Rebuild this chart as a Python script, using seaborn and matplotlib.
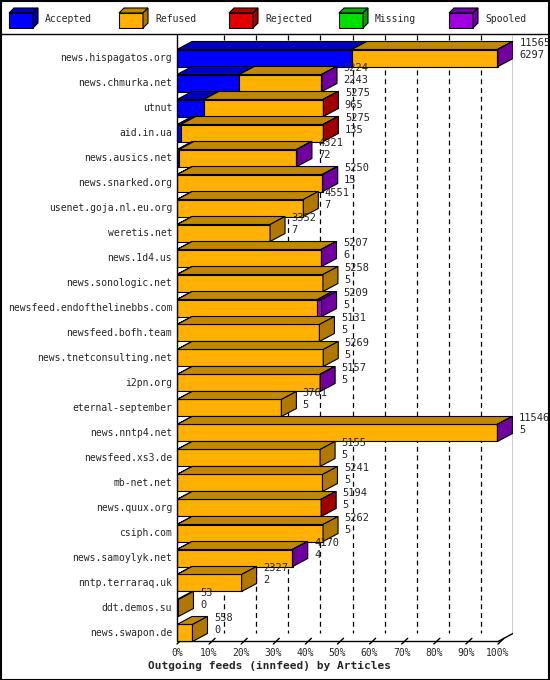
import numpy as np
import pandas as pd
import seaborn as sns
import matplotlib.pyplot as plt
from matplotlib.patches import Polygon, Rectangle

hosts = ['news.hispagatos.org', 'news.chmurka.net', 'utnut', 'aid.in.ua', 'news.ausics.net',
         'news.snarked.org', 'usenet.goja.nl.eu.org', 'weretis.net', 'news.1d4.us', 'news.sonologic.net',
         'newsfeed.endofthelinebbs.com', 'newsfeed.bofh.team', 'news.tnetconsulting.net', 'i2pn.org',
         'eternal-september', 'news.nntp4.net', 'newsfeed.xs3.de', 'mb-net.net', 'news.quux.org',
         'csiph.com', 'news.samoylyk.net', 'nntp.terraraq.uk', 'ddt.demos.su', 'news.swapon.de']
totals = [11565, 5224, 5275, 5275, 4321, 5250, 4551, 3352, 5207, 5258, 5209, 5131, 5269, 5157,
          3761, 11546, 5155, 5241, 5194, 5262, 4170, 2327, 53, 558]
accepted = [6297, 2243, 965, 135, 72, 15, 7, 7, 6, 5, 5, 5, 5, 5, 5, 5, 5, 5, 5, 5, 4, 2, 0, 0]
rejected = [0, 0, 20, 20, 0, 0, 0, 0, 0, 0, 0, 0, 0, 0, 0, 0, 0, 0, 20, 0, 0, 0, 0, 0]
missing = [0] * 24
spooled = [20, 20, 0, 0, 20, 20, 0, 0, 20, 0, 150, 0, 0, 20, 0, 20, 0, 0, 0, 0, 20, 0, 0, 0]

cats = ['Accepted', 'Refused', 'Rejected', 'Missing', 'Spooled']
front = {'Accepted': '#0000ff', 'Refused': '#ffb000', 'Rejected': '#e00000',
         'Missing': '#00e000', 'Spooled': '#a000e0'}
top = {'Accepted': '#0000c0', 'Refused': '#c08800', 'Rejected': '#b00000',
       'Missing': '#00b000', 'Spooled': '#7000b0'}
side = {'Accepted': '#0000a0', 'Refused': '#b07800', 'Rejected': '#a00000',
        'Missing': '#00a000', 'Spooled': '#7000a0'}

df = pd.DataFrame({'host': hosts, 'total': totals, 'Accepted': accepted,
                   'Rejected': rejected, 'Missing': missing, 'Spooled': spooled})
df['Refused'] = df['total'] - df['Accepted'] - df['Rejected'] - df['Missing'] - df['Spooled']
scale = 100.0 / max(totals)

sns.set_style('white')
plt.rcParams['font.family'] = ['DejaVu Sans Mono']
fig = plt.figure(figsize=(5.5, 6.8), dpi=100)

# axes in pixel placement: x 177..513, y 35..645
W, H = 550, 680
ax = fig.add_axes([177 / W, 1 - 645 / H, (513 - 177) / W, (645 - 35) / H])
dx = 15 / 321 * 100
rowpx = 25.0
dy = 8 / rowpx
bh = 17 / rowpx
ax.set_xlim(0, 100 + dx)
ax.set_ylim((645 - 58) / rowpx, -(58 - 35) / rowpx)
ax.axis('off')

n = len(hosts)
floor_front = n - 1 + bh / 2
floor_back = floor_front - dy
ytop = ax.get_ylim()[1]
# back grid
for p in range(10, 100, 10):
    ax.plot([p + dx, p + dx], [ytop, floor_back], color='black', lw=0.9, ls=(0, (4, 3)), zorder=1)
ax.plot([100 + dx, 100 + dx], [ytop, floor_back], color='black', lw=1, zorder=1)
ax.plot([0, 0], [ytop, floor_front], color='black', lw=1, zorder=5, clip_on=False)
ax.plot([0, 100, 100 + dx], [floor_front, floor_front, floor_back], color='black', lw=1, zorder=1)
for p in range(0, 101, 10):
    ax.plot([p, p + dx * 0.4], [floor_front + 0.1, floor_front - dy * 0.4], color='black', lw=1, zorder=1,
            clip_on=False)

for i, row in df.iterrows():
    y0 = i - bh / 2
    y1 = i + bh / 2
    left = 0.0
    last = None
    for c in cats:
        w = row[c] * scale
        if row[c] <= 0:
            continue
        ax.add_patch(Rectangle((left, y0), w, bh, fc=front[c], ec='black', lw=0.8, zorder=3))
        ax.add_patch(Polygon([(left, y0), (left + dx, y0 - dy), (left + w + dx, y0 - dy), (left + w, y0)],
                             fc=top[c], ec='black', lw=0.8, zorder=3))
        left += w
        last = c
    if last is None:
        last = 'Refused'
    ax.add_patch(Polygon([(left, y0), (left + dx, y0 - dy), (left + dx, y1 - dy), (left, y1)],
                         fc=side[last], ec='black', lw=0.8, zorder=3))
    ax.text(left + dx + 2, y0 - dy + 0.05, str(row['total']), fontsize=7.5, va='center', ha='left', zorder=4)
    ax.text(left + dx + 2, y0 - dy + 0.53, str(row['Accepted']), fontsize=7.5, va='center', ha='left', zorder=4)
    ax.text(-1.5, i, row['host'], fontsize=7, va='center', ha='right', clip_on=False)

for p in range(0, 101, 10):
    ax.text(p, floor_front + 0.45, f'{p}%', fontsize=7, ha='center', va='center', clip_on=False)
fig.text(148 / W, 1 - 666 / H, 'Outgoing feeds (innfeed) by Articles', fontsize=8, fontweight='bold',
         ha='left', va='center')

# legend
for k, c in enumerate(cats):
    x = 8 + k * 110
    lx = fig.add_axes([x / W, 1 - 29 / H, 34 / W, 22 / H])
    lx.set_xlim(0, 34)
    lx.set_ylim(0, 22)
    lx.axis('off')
    lx.add_patch(Rectangle((1, 1), 24, 15, fc=front[c], ec='black', lw=0.8))
    lx.add_patch(Polygon([(1, 16), (6, 21), (30, 21), (25, 16)], fc=top[c], ec='black', lw=0.8))
    lx.add_patch(Polygon([(25, 1), (30, 6), (30, 21), (25, 16)], fc=side[c], ec='black', lw=0.8))
    fig.text((x + 37) / W, 1 - 19 / H, c, fontsize=7, va='center', ha='left')

fig.add_artist(plt.Line2D([0, 1], [1 - 34 / H, 1 - 34 / H], color='black', lw=1))
fig.add_artist(Rectangle((0.5 / W, 0.5 / H), 1 - 1.5 / W, 1 - 1.5 / H, transform=fig.transFigure,
                         fill=False, ec='black', lw=1.5))
fig.savefig('out.png', dpi=100)
